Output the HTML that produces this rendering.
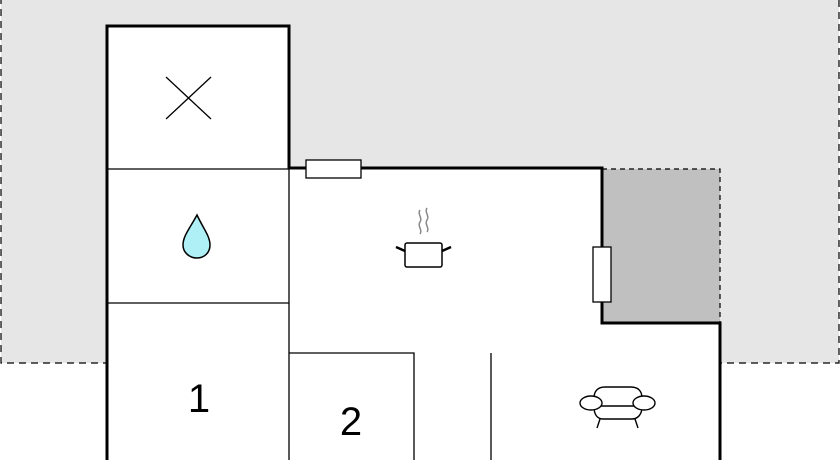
<!DOCTYPE html>
<html><head><meta charset="utf-8"><style>html,body{margin:0;padding:0;background:#fff}svg{display:block}</style></head>
<body>
<svg width="840" height="460" viewBox="0 0 840 460" xmlns="http://www.w3.org/2000/svg">
<rect x="0" y="0" width="840" height="460" fill="#fff"/>
<rect x="1" y="-2" width="838" height="365" fill="#e6e6e6" stroke="#000" stroke-width="1.2" stroke-dasharray="7,5"/>
<!-- building white fill -->
<path d="M107,26 H289 V168 H602 V323 H720 V460 H107 Z" fill="#fff"/>
<rect x="602" y="169" width="118" height="154" fill="#c0c0c0" stroke="#000" stroke-width="1.2" stroke-dasharray="5,4"/>
<!-- thin walls -->
<g stroke="#000" stroke-width="1.3" fill="none">
<line x1="107" y1="169" x2="289" y2="169"/>
<line x1="107" y1="303" x2="289" y2="303"/>
<line x1="289" y1="168" x2="289" y2="460"/>
<polyline points="289,353 414,353 414,460"/>
<line x1="491" y1="353" x2="491" y2="460"/>
</g>
<!-- thick walls -->
<path d="M107,460 V26 H289 V168 H602 V323 H720 V460" fill="none" stroke="#000" stroke-width="3"/>
<!-- windows -->
<rect x="306" y="160" width="55" height="18" fill="#fff" stroke="#000" stroke-width="1.3"/>
<rect x="593" y="247" width="18" height="55" fill="#fff" stroke="#000" stroke-width="1.3"/>
<!-- X -->
<g stroke="#000" stroke-width="1.3"><line x1="166" y1="77" x2="211" y2="119"/><line x1="211" y1="77" x2="166" y2="119"/></g>
<!-- drop -->
<path d="M197,215 C190,228 183,236 183,245 C183,253 190,258 197,258 C204,258 210,253 210,245 C210,236 203,228 197,215 Z" fill="#aef0f6" stroke="#000" stroke-width="1.5"/>
<!-- pot -->
<g fill="none" stroke="#888" stroke-width="1.5"><path d="M420,210 c-3,4 3,8 0,12 c-3,4 3,8 0,12"/><path d="M427,208 c-3,4 3,8 0,12 c-3,4 3,8 0,12"/></g>
<rect x="405" y="243" width="37" height="24" rx="2" fill="#fff" stroke="#000" stroke-width="1.5"/>
<g stroke="#000" stroke-width="2.5"><line x1="396" y1="247" x2="405" y2="251"/><line x1="442" y1="251" x2="451" y2="247"/></g>
<!-- armchair -->
<g fill="#fff" stroke="#000" stroke-width="1.4">
<line x1="600" y1="419" x2="597" y2="428"/><line x1="635" y1="419" x2="638" y2="428"/>
<path d="M594,407 V398 C594,391 598,387 605,387 H631 C638,387 642,391 642,398 V407 C642,414 638,419 632,419 H603 C597,419 594,414 594,407 Z"/>
<line x1="594" y1="406" x2="642" y2="406"/>
<ellipse cx="591" cy="403" rx="11" ry="7"/>
<ellipse cx="644" cy="403" rx="11" ry="7"/>
</g>
<g font-family="Liberation Sans, sans-serif" font-size="40" fill="#000" text-anchor="middle">
<text x="199" y="412">1</text>
<text x="351" y="435">2</text>
</g>
</svg>
</body></html>
